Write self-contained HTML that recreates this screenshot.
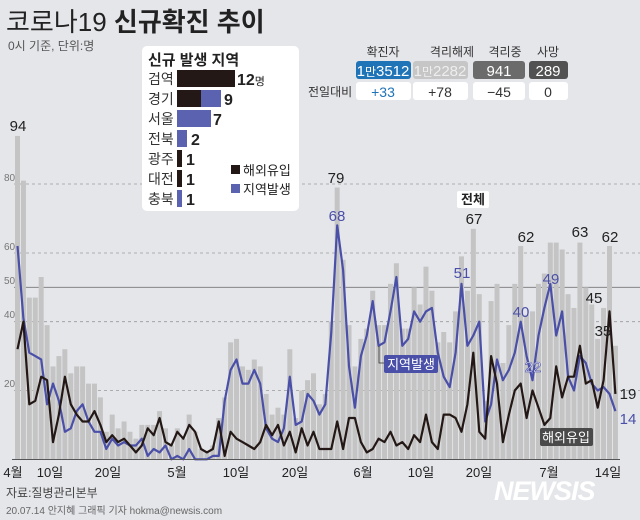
<!DOCTYPE html>
<html><head><meta charset="utf-8">
<style>
body{margin:0;background:#e5e6ea;}
svg{display:block;font-family:"Liberation Sans","Noto Sans CJK KR",sans-serif;}
</style></head><body>
<svg id="s" width="640" height="520" viewBox="0 0 640 520" xmlns="http://www.w3.org/2000/svg">
<rect width="640" height="520" fill="#e5e6ea"/>
<g id="grid">
<line x1="14" y1="184" x2="640" y2="184" stroke="#9a9a9a" stroke-dasharray="3,3" stroke-width="0.8"/>
<line x1="14" y1="253" x2="640" y2="253" stroke="#9a9a9a" stroke-dasharray="3,3" stroke-width="0.8"/>
<line x1="14" y1="287.3" x2="640" y2="287.3" stroke="#777" stroke-width="0.8"/>
<line x1="14" y1="321.7" x2="640" y2="321.7" stroke="#9a9a9a" stroke-dasharray="3,3" stroke-width="0.8"/>
<line x1="14" y1="390.5" x2="640" y2="390.5" stroke="#9a9a9a" stroke-dasharray="3,3" stroke-width="0.8"/>
</g>
<g font-size="10" fill="#777">
<text x="4" y="181">80</text><text x="4" y="250">60</text><text x="4" y="284">50</text><text x="4" y="318">40</text><text x="4" y="387">20</text>
</g>
<g id="bars"></g>
<polyline id="blue" fill="none" stroke="#4a4fa8" stroke-width="2.2" stroke-linejoin="round"/>
<polyline id="black" fill="none" stroke="#231815" stroke-width="2.2" stroke-linejoin="round"/>
<line x1="12" y1="459.5" x2="620" y2="459.5" stroke="#555" stroke-width="1"/>
<g font-size="13" fill="#222" text-anchor="middle">
<text x="13" y="477">4월</text><text x="50" y="477">10일</text><text x="108" y="477">20일</text>
<text x="177" y="477">5월</text><text x="236" y="477">10일</text><text x="295" y="477">20일</text>
<text x="363" y="477">6월</text><text x="421" y="477">10일</text><text x="479" y="477">20일</text>
<text x="549" y="477">7월</text><text x="608" y="477">14일</text>
</g>
<!-- title -->
<text x="6" y="31" font-size="26" fill="#222">코로나19 <tspan font-weight="bold">신규확진 추이</tspan></text>
<text x="8" y="50" font-size="12" fill="#555">0시 기준, 단위:명</text>
<!-- legend box -->
<rect x="142" y="46" width="157" height="165" rx="5" fill="#fff"/>
<text x="148" y="65" font-size="15" font-weight="bold" fill="#222">신규 발생 지역</text>
<g font-size="14" fill="#333">
<text x="148" y="84">검역</text><text x="148" y="104">경기</text><text x="148" y="124">서울</text><text x="148" y="144">전북</text><text x="148" y="164">광주</text><text x="148" y="184">대전</text><text x="148" y="204">충북</text>
</g>
<rect x="177" y="70" width="58" height="17" fill="#231815"/>
<rect x="177" y="90" width="24" height="17" fill="#231815"/><rect x="201" y="90" width="20" height="17" fill="#5b63b0"/>
<rect x="177" y="110" width="34" height="17" fill="#5b63b0"/>
<rect x="177" y="130" width="10" height="17" fill="#5b63b0"/>
<rect x="177" y="150" width="5" height="17" fill="#231815"/>
<rect x="177" y="170" width="5" height="17" fill="#231815"/>
<rect x="177" y="190" width="5" height="17" fill="#5b63b0"/>
<g font-size="16" font-weight="bold" fill="#222">
<text x="237" y="85">12<tspan font-size="11" font-weight="normal">명</tspan></text><text x="224" y="105">9</text><text x="213" y="125">7</text><text x="191" y="145">2</text><text x="186" y="165">1</text><text x="186" y="185">1</text><text x="186" y="205">1</text>
</g>
<rect x="231" y="165" width="9" height="9" fill="#231815"/>
<text x="243" y="175" font-size="13" fill="#222">해외유입</text>
<rect x="231" y="184" width="9" height="9" fill="#5b63b0"/>
<text x="243" y="194" font-size="13" fill="#222">지역발생</text>
<!-- stats -->
<g font-size="12" fill="#333" text-anchor="middle">
<text x="383" y="56">확진자</text><text x="452" y="56">격리해제</text><text x="505" y="56">격리중</text><text x="548" y="56">사망</text>
</g>
<rect x="356" y="61" width="55" height="18" rx="3" fill="#1f73b7"/>
<rect x="413" y="61" width="55" height="18" rx="3" fill="#c6c6c6"/>
<rect x="473" y="61" width="52" height="18" rx="3" fill="#6b6b6b"/>
<rect x="529" y="61" width="39" height="18" rx="3" fill="#525252"/>
<g font-size="15" text-anchor="middle">
<text x="383" y="76" fill="#fff">1<tspan font-size="12">만</tspan>3512</text>
<text x="440" y="76" fill="#eee">1<tspan font-size="12">만</tspan>2282</text>
<text x="499" y="76" fill="#fff">941</text>
<text x="548" y="76" fill="#fff">289</text>
</g>
<rect x="356" y="82" width="55" height="18" rx="3" fill="#fff"/>
<rect x="413" y="82" width="55" height="18" rx="3" fill="#fff"/>
<rect x="473" y="82" width="52" height="18" rx="3" fill="#fff"/>
<rect x="529" y="82" width="39" height="18" rx="3" fill="#fff"/>
<text x="308" y="96" font-size="12" fill="#333">전일대비</text>
<g font-size="14" text-anchor="middle">
<text x="383" y="97" fill="#1f73b7">+33</text><text x="440" y="97" fill="#333">+78</text><text x="499" y="97" fill="#333">−45</text><text x="548" y="97" fill="#333">0</text>
</g>
<!-- annotations -->
<g font-size="15" fill="#222" text-anchor="middle">
<text x="18" y="131">94</text><text x="336" y="183">79</text><text x="474" y="224">67</text><text x="526" y="242">62</text><text x="580" y="237">63</text><text x="610" y="242">62</text><text x="594" y="303">45</text><text x="603" y="336">35</text>
<text x="628" y="399">19</text>
</g>
<g font-size="15" fill="#4a4fa8" text-anchor="middle">
<text x="337" y="221">68</text><text x="462" y="278">51</text><text x="521" y="317">40</text><text x="551" y="284">49</text><text x="628" y="424">14</text>
<text x="533" y="372" fill="#fff" stroke="#4a4fa8" stroke-width="0.6">22</text>
</g>
<rect x="457" y="191" width="32" height="17" rx="2" fill="#fff"/>
<text x="473" y="204" font-size="13" font-weight="bold" fill="#222" text-anchor="middle">전체</text>
<polyline points="379,346 379,363 384,363" fill="none" stroke="#333" stroke-width="0.8"/>
<rect x="384" y="355" width="54" height="18" rx="2" fill="#4a4fa8"/>
<text x="411" y="369" font-size="13" fill="#fff" text-anchor="middle">지역발생</text>
<rect x="540" y="428" width="53" height="18" rx="2" fill="#4a4a4a"/>
<text x="566" y="442" font-size="13" fill="#fff" text-anchor="middle">해외유입</text>
<!-- footer -->
<text x="6" y="497" font-size="12" fill="#444">자료:질병관리본부</text>
<text x="6" y="514" font-size="10" fill="#666">20.07.14 안지혜 그래픽 기자 hokma@newsis.com</text>
<text x="494" y="500" font-size="27" font-weight="bold" font-style="italic" fill="#fff" letter-spacing="-1">NEWSIS</text>
</svg>
<script>
var T=[94,81,47,47,53,39,27,30,32,25,27,27,22,22,18,8,13,9,11,8,6,10,10,10,14,9,4,
9,6,13,8,3,2,4,12,18,34,35,27,26,29,27,19,13,15,13,32,12,20,23,25,16,19,40,79,58,39,27,
35,38,49,39,39,51,57,38,38,50,45,56,49,34,37,34,43,59,49,67,48,17,46,51,28,39,51,62,42,43,
51,54,63,63,61,48,44,63,50,45,35,44,62,33];
var I=[32,40,16,17,24,23,5,13,24,16,13,11,11,14,10,5,7,5,6,4,2,4,9,7,12,5,4,8,6,10,8,3,2,3,11,1,8,6,5,4,3,5,10,7,10,4,8,2,9,4,8,3,3,3,11,3,12,12,5,2,3,6,5,8,4,5,3,7,5,13,5,3,13,13,12,8,16,31,8,6,30,22,5,13,20,22,12,20,15,10,12,27,18,24,24,33,22,23,15,23,43,19];
var ns="http://www.w3.org/2000/svg",g=document.getElementById('bars'),b=[],k=[];
function Y(v){return 459.3-v*3.44;}
for(var i=0;i<T.length;i++){var x=15+i*5.92;var r=document.createElementNS(ns,'rect');
r.setAttribute('x',x);r.setAttribute('width',5);r.setAttribute('y',Y(T[i]));r.setAttribute('height',T[i]*3.44);r.setAttribute('fill','#c4c4c4');g.appendChild(r);
var c=x+2.5,l=Math.max(0,T[i]-I[i]);b.push(c.toFixed(1)+','+Y(l).toFixed(1));k.push(c.toFixed(1)+','+Y(I[i]).toFixed(1));}
document.getElementById('blue').setAttribute('points',b.join(' '));
document.getElementById('black').setAttribute('points',k.join(' '));
</script>
</body></html>
